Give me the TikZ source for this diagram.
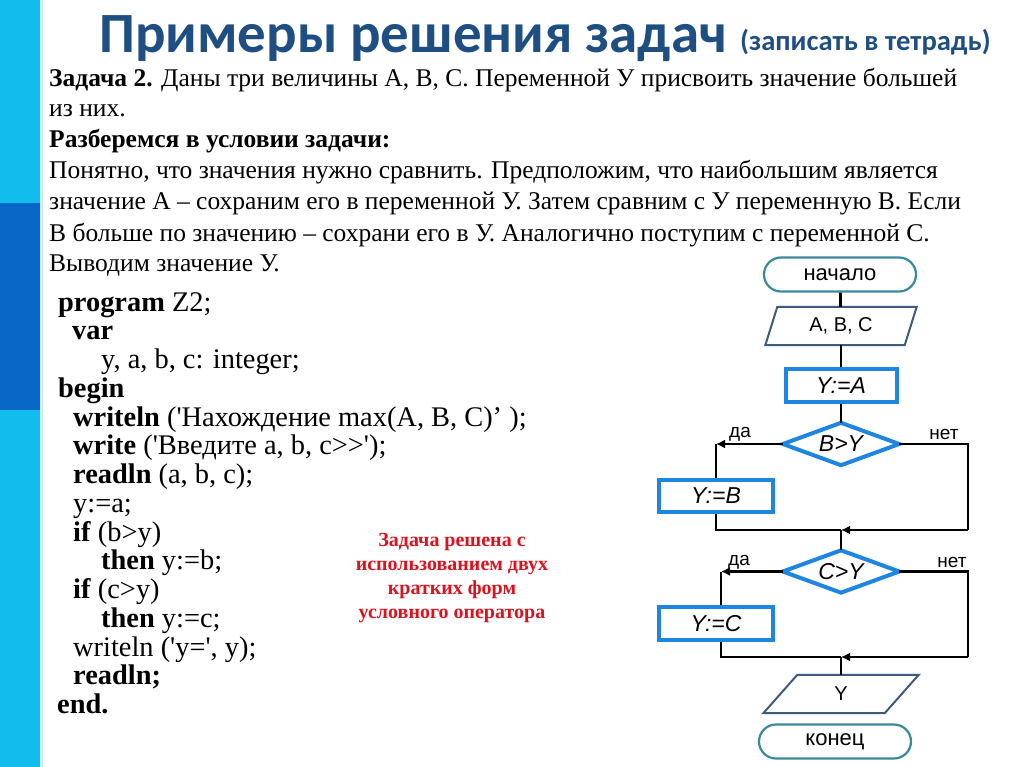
\documentclass[tikz,border=0pt]{standalone}
\usepackage{fontspec}
\setmainfont{Liberation Serif}
\newfontfamily\ttlfont{Carlito}
\newfontfamily\fcfont{Liberation Sans}
\usetikzlibrary{arrows.meta}
\definecolor{ttlblue}{HTML}{1F4E82}
\definecolor{bandcyan}{HTML}{12BDEE}
\definecolor{banddark}{HTML}{0866C6}
\definecolor{bandedge}{HTML}{CDEFF9}
\definecolor{termc}{HTML}{3A8A9C}
\definecolor{ioc}{HTML}{3F5B7C}
\definecolor{procc}{HTML}{1E86E2}
\definecolor{redc}{HTML}{D9141E}
\tikzset{
  txt/.style={anchor=base west, inner sep=0pt, font=\fontsize{25.5}{30}\selectfont},
  code/.style={anchor=base west, inner sep=0pt, font=\fontsize{28.4}{30}\selectfont},
  redtxt/.style={anchor=base, inner sep=0pt, text=redc, font=\bfseries\fontsize{20}{24}\selectfont},
  term/.style={draw=termc, line width=2.2pt, rounded corners=17pt, minimum width=152pt, minimum height=34pt, inner sep=0pt, font=\fcfont\fontsize{22}{24}\selectfont},
  iobox/.style={minimum height=38pt, inner sep=0pt, font=\fcfont\fontsize{20}{22}\selectfont},
  iodraw/.style={draw=ioc, line width=2pt, line join=miter},
  proc/.style={draw=procc, line width=4pt, minimum width=111pt, minimum height=33pt, inner sep=0pt, font=\fcfont\itshape\fontsize{23}{24}\selectfont},
  decbox/.style={minimum width=116pt, minimum height=42pt, inner sep=0pt, font=\fcfont\itshape\fontsize{23}{24}\selectfont},
  decdraw/.style={draw=procc, line width=4pt, line join=miter},
  conn/.style={draw=black, line width=2.8pt},
  arr/.style={-{Latex[length=9pt,width=9pt]}},
  lbl/.style={inner sep=0pt, font=\fcfont\fontsize{19}{20}\selectfont}
}
\begin{document}
\begin{tikzpicture}[x=1pt,y=-1pt]
\useasboundingbox (0,0) rectangle (1024,767);
\fill[white] (0,0) rectangle (1024,767);
% left band
\fill[bandcyan] (0,0) rectangle (40,767);
\fill[banddark] (0,203) rectangle (40,410);
\fill[bandedge] (40,0) rectangle (43,767);
% title
\node[anchor=base west, inner sep=0pt, text=ttlblue, font=\ttlfont\bfseries\fontsize{56.9}{60}\selectfont] (title) at (99,53) {Примеры решения задач};
\node[anchor=base west, inner sep=0pt, text=ttlblue, font=\ttlfont\bfseries\fontsize{28.6}{30}\selectfont] (subtitle) at (740,51) {(записать в тетрадь)};
% body text
\node[txt] (t1) at (49,87) {\textbf{Задача 2.} Даны три величины А, В, С. Переменной У присвоить значение большей};
\node[txt] (t2) at (49,117) {из них.};
\node[txt] (t3) at (49,148) {\textbf{Разберемся в условии задачи:}};
\node[txt] (t4) at (49,179) {Понятно, что значения нужно сравнить. Предположим, что наибольшим является};
\node[txt] (t5) at (49,210) {значение А – сохраним его в переменной У. Затем сравним с У переменную В. Если};
\node[txt] (t6) at (49,241) {В больше по значению – сохрани его в У. Аналогично поступим с переменной С.};
\node[txt] (t7) at (49,271) {Выводим значение У.};
% code
\node[code] (c0) at (58,311) {\textbf{program} Z2;};
\node[code] (c1) at (72,339.75) {\textbf{var}};
\node[code] (c2) at (101,368.5) {y, a, b, c: integer;};
\node[code] (c3) at (58,397.25) {\textbf{begin}};
\node[code] (c4) at (73,426) {\textbf{writeln} (\textquotesingle Нахождение max(A, B, C)’ );};
\node[code] (c5) at (73,454.75) {\textbf{write} (\textquotesingle Введите a, b, c>{}>\textquotesingle);};
\node[code] (c6) at (73,483.5) {\textbf{readln} (a, b, c);};
\node[code] (c7) at (73,512.25) {y:=a;};
\node[code] (c8) at (73,541) {\textbf{if} (b>y)};
\node[code] (c9) at (101,569.75) {\textbf{then} y:=b;};
\node[code] (c10) at (73,598.5) {\textbf{if} (c>y)};
\node[code] (c11) at (101,627.25) {\textbf{then} y:=c;};
\node[code] (c12) at (73,656) {writeln (\textquotesingle y=\textquotesingle, y);};
\node[code] (c13) at (73,684.75) {\textbf{readln;}};
\node[code] (c14) at (57,713.5) {\textbf{end.}};
% red note
\node[redtxt] (r1) at (452,546) {Задача решена с};
\node[redtxt] (r2) at (452,570) {использованием двух};
\node[redtxt] (r3) at (452,594) {кратких форм};
\node[redtxt] (r4) at (452,618) {условного оператора};
% flowchart nodes
\node[term] (st) at (840,274.5) {начало};
\node[iobox, minimum width=139pt] (io1) at (841,326) {A, B, C};
\draw[iodraw] ([xshift=6pt]io1.north west) -- ([xshift=6pt]io1.north east) -- ([xshift=-6pt]io1.south east) -- ([xshift=-6pt]io1.south west) -- cycle;
\node[proc] (pa) at (841,385.5) {Y:=A};
\node[decbox] (d1) at (841,444) {B>Y};
\draw[decdraw] (d1.north) -- (d1.east) -- (d1.south) -- (d1.west) -- cycle;
\node[proc, minimum width=114pt, minimum height=32pt] (pb) at (716,496) {Y:=B};
\node[decbox] (d2) at (841,571.5) {C>Y};
\draw[decdraw] (d2.north) -- (d2.east) -- (d2.south) -- (d2.west) -- cycle;
\node[proc, minimum width=114pt, minimum height=33pt] (pc) at (716,623.5) {Y:=C};
\node[iobox, minimum width=121pt] (io2) at (841,694) {Y};
\draw[iodraw] ([xshift=17pt]io2.north west) -- ([xshift=17pt]io2.north east) -- ([xshift=-17pt]io2.south east) -- ([xshift=-17pt]io2.south west) -- cycle;
\node[term] (en) at (835,741.5) {конец};
% labels
\node[lbl] (l1) at (740,434) {да};
\node[lbl] (l2) at (944,434) {нет};
\node[lbl] (l3) at (739,562) {да};
\node[lbl] (l4) at (952,562) {нет};
% connector coordinates
\coordinate (k1) at (716,444);
\coordinate (e1) at (968,444);
\coordinate (e1b) at (968,530);
\coordinate (m1) at (841,530);
\coordinate (k2) at (721,571.5);
\coordinate (k2b) at (721,657);
\coordinate (e2) at (968,571.5);
\coordinate (e2b) at (968,657);
\coordinate (m2) at (841,657);
% connectors
\draw[conn] (st) -- (io1);
\draw[conn] (io1) -- (pa);
\draw[conn] (pa) -- (d1);
\draw[conn, arr] (d1.west) -- (k1);
\draw[conn] (k1) -- (pb);
\draw[conn] (d1.east) -- (e1) -- (e1b);
\draw[conn, arr] (e1b) -- (m1);
\draw[conn] (pb) |- (m1);
\draw[conn] (m1) -- (d2.north);
\draw[conn, arr] (d2.west) -- (k2);
\draw[conn] (k2) -- (k2 |- pc.north);
\draw[conn] (k2 |- pc.south) -- (k2b) -- (m2);
\draw[conn] (d2.east) -- (e2) -- (e2b);
\draw[conn, arr] (e2b) -- (m2);
\draw[conn] (m2) -- (io2);
\end{tikzpicture}
\end{document}
